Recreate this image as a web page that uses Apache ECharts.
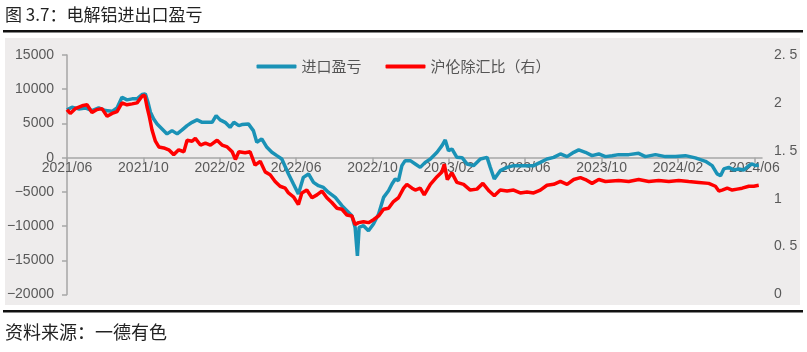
<!DOCTYPE html>
<html>
<head>
<meta charset="utf-8">
<script src="https://cdn.jsdelivr.net/npm/echarts@6/dist/echarts.min.js"></script>
<style>
html,body{margin:0;padding:0;background:#fff;}
#chart{width:807px;height:352px;}
</style>
</head>
<body>
<div id="chart"></div>
<script>
// x 以 2021/06 起算的月份数
var startYear = 2021, startMonth = 6;
var xTicks = [0, 4, 8, 12, 16, 20, 24, 28, 32, 36];

// 进口盈亏（元/吨，左轴）
var importMonths = [0, 0.26, 0.61, 0.96, 1.31, 1.66, 2.01, 2.36, 2.62, 2.88, 3.14, 3.41, 3.67, 3.93, 4.10, 4.24, 4.37, 4.54, 4.72, 4.98,
  5.24, 5.50, 5.77, 6.03, 6.29, 6.55, 6.81, 7.08, 7.34, 7.60, 7.81, 8.02, 8.28, 8.54, 8.74, 9.00, 9.16, 9.50, 9.76, 9.94,
  10.20, 10.47, 10.73, 10.99, 11.25, 11.60, 11.86, 12.12, 12.38, 12.65, 12.91, 13.17, 13.43, 13.70, 14.05, 14.40, 14.66, 14.92, 15.09, 15.21,
  15.30, 15.53, 15.79, 16.05, 16.32, 16.58, 16.84, 17.02, 17.19, 17.36, 17.54, 17.71, 17.98, 18.24, 18.50, 18.76, 19.03, 19.38, 19.64, 19.81,
  19.98, 20.16, 20.42, 20.69, 20.95, 21.29, 21.65, 22.00, 22.17, 22.38, 22.69, 23.05, 23.39, 23.74, 24.09, 24.44, 24.79, 25.14, 25.49, 25.84,
  26.19, 26.54, 26.80, 27.15, 27.50, 27.85, 28.20, 28.55, 28.89, 29.42, 29.94, 30.29, 30.82, 31.34, 31.87, 32.39, 32.91, 33.44, 33.79, 34.05,
  34.23, 34.40, 34.66, 34.92, 35.18, 35.45, 35.71, 35.89, 36.06, 36.23];
var importValues = [6980, 7360, 7120, 7270, 6880, 7270, 6880, 6770, 7270, 8820, 8440, 8590, 8590, 9220, 9320, 8090, 6630, 5660, 4930, 4200,
  3470, 3950, 3470, 4050, 4680, 5160, 5520, 5160, 5160, 5160, 6140, 5520, 5160, 4430, 5160, 4680, 4830, 4930, 3950, 2240,
  2740, 1510, 780, 290, -190, -2380, -3850, -5310, -2880, -2380, -3610, -4100, -4350, -5080, -5810, -7020, -7750, -8490, -10200, -14340,
  -10200, -9950, -10680, -9700, -8240, -5810, -4830, -3850, -3120, -3360, -1170, -440, -440, -920, -1420, -690, -190, 780, 1760, 2590,
  1020, 1270, 40, 0, -920, -1170, -190, 40, -1420, -3120, -1900, -1420, -1170, -1170, -1170, -1170, -690, -190, 40, 540,
  150, 780, 1130, 780, 290, 540, 150, 290, 440, 440, 630, 150, 440, 150, 150, 290, -40, -540, -1170, -2380,
  -2630, -1650, -1420, -1800, -1650, -1800, -1170, -920, -1170, -1070];

// 沪伦除汇比（右轴）
var ratioMonths = [0, 0.17, 0.43, 0.79, 1.05, 1.31, 1.57, 1.83, 2.10, 2.36, 2.62, 2.88, 3.14, 3.41, 3.67, 3.93, 4.07, 4.19, 4.31, 4.45,
  4.63, 4.81, 5.07, 5.33, 5.59, 5.85, 6.12, 6.29, 6.55, 6.72, 6.99, 7.25, 7.51, 7.86, 8.12, 8.39, 8.65, 8.82, 9.00, 9.07,
  9.33, 9.59, 9.85, 10.12, 10.38, 10.64, 10.90, 11.16, 11.43, 11.60, 11.86, 12.12, 12.30, 12.56, 12.83, 13.09, 13.35, 13.61, 13.87, 14.14,
  14.40, 14.66, 14.92, 15.09, 15.27, 15.53, 15.79, 16.05, 16.32, 16.58, 16.84, 17.10, 17.36, 17.63, 17.80, 18.07, 18.24, 18.50, 18.71, 19.03,
  19.38, 19.64, 19.76, 19.92, 20.16, 20.42, 20.77, 21.12, 21.47, 21.78, 22.11, 22.38, 22.69, 23.05, 23.39, 23.74, 24.09, 24.44, 24.79, 25.14,
  25.49, 25.84, 26.19, 26.54, 26.89, 27.15, 27.50, 27.85, 28.20, 28.89, 29.42, 29.94, 30.47, 30.99, 31.52, 32.04, 32.56, 33.09, 33.61, 33.96,
  34.14, 34.31, 34.58, 34.84, 35.10, 35.36, 35.71, 35.97, 36.23];
var ratioValues = [1.93, 1.89, 1.94, 1.97, 1.98, 1.90, 1.93, 1.94, 1.86, 1.89, 1.91, 2.00, 1.98, 1.99, 2.00, 2.07, 2.08, 1.96, 1.86, 1.72,
  1.60, 1.54, 1.53, 1.51, 1.46, 1.51, 1.49, 1.61, 1.60, 1.63, 1.56, 1.58, 1.56, 1.61, 1.56, 1.54, 1.49, 1.41, 1.49, 1.51,
  1.48, 1.49, 1.35, 1.39, 1.28, 1.25, 1.18, 1.13, 1.11, 1.06, 1.02, 0.94, 1.06, 1.09, 1.01, 1.04, 1.08, 1.01, 0.96, 0.90,
  0.89, 0.83, 0.82, 0.73, 0.75, 0.76, 0.75, 0.78, 0.82, 0.89, 0.90, 0.97, 1.01, 1.11, 1.15, 1.11, 1.09, 1.11, 1.04, 1.15,
  1.23, 1.28, 1.36, 1.20, 1.27, 1.17, 1.15, 1.09, 1.10, 1.16, 1.08, 1.03, 1.09, 1.08, 1.09, 1.06, 1.07, 1.06, 1.09, 1.14,
  1.15, 1.18, 1.15, 1.20, 1.22, 1.20, 1.16, 1.20, 1.18, 1.19, 1.18, 1.20, 1.18, 1.19, 1.18, 1.19, 1.18, 1.17, 1.16, 1.13,
  1.08, 1.09, 1.11, 1.09, 1.10, 1.11, 1.13, 1.13, 1.14];

function pairs(xs, ys) {
  return xs.map(function (x, i) { return [x, ys[i]]; });
}
function monthLabel(m) {
  var t = startMonth - 1 + Math.round(m);
  var y = startYear + Math.floor(t / 12);
  var mm = t % 12 + 1;
  return y + '/' + (mm < 10 ? '0' + mm : mm);
}

var chart = echarts.init(document.getElementById('chart'));
var labelStyle = {color: '#595959', fontSize: 14, fontFamily: 'Liberation Sans, Arial, sans-serif'};

// 网格：上 55，下 57.5，0 值线位置
var gridTop = 55, gridBottom = 57.5;
var plotH = 352 - gridTop - gridBottom;
var zeroOffset = plotH * 20000 / 35000;

var option = {
  backgroundColor: '#fff',
  animation: false,
  graphic: [
    {type: 'text', left: 5, top: 6, style: {text: '图 3.7：电解铝进出口盈亏', fontSize: 17, fill: '#222', fontFamily: 'Noto Sans CJK SC'}},
    {type: 'rect', shape: {x: 3, y: 30, width: 800, height: 2.5}, style: {fill: '#111'}},
    {type: 'rect', z: -10, shape: {x: 5, y: 38, width: 795, height: 267}, style: {fill: '#EEECEC'}},
    {type: 'rect', shape: {x: 3, y: 310, width: 800, height: 2.5}, style: {fill: '#111'}},
    {type: 'text', left: 5, top: 323, style: {text: '资料来源：一德有色', fontSize: 18, fill: '#222', fontFamily: 'Noto Sans CJK SC'}}
  ],
  legend: {
    top: 54,
    left: 'center',
    itemWidth: 40,
    itemHeight: 4,
    itemGap: 24,
    icon: 'roundRect',
    textStyle: {color: '#555', fontSize: 15, fontFamily: 'Noto Sans CJK SC'},
    data: ['进口盈亏', '沪伦除汇比（右）']
  },
  grid: {left: 67, right: 45, top: gridTop, bottom: gridBottom},
  xAxis: {
    type: 'value',
    min: 0,
    max: 36.4,
    offset: -zeroOffset,
    splitLine: {show: false},
    axisLine: {onZero: false, lineStyle: {color: '#A6A6A6', width: 1.5}},
    axisTick: {show: true, length: 5, lineStyle: {color: '#A6A6A6', width: 1.5}, customValues: xTicks},
    axisLabel: Object.assign({customValues: xTicks, formatter: monthLabel, margin: 3}, labelStyle)
  },
  yAxis: [
    {
      type: 'value',
      min: -20000,
      max: 15000,
      interval: 5000,
      splitLine: {show: false},
      axisLine: {show: true, lineStyle: {color: '#A6A6A6', width: 1.5}},
      axisTick: {show: true, length: 5, lineStyle: {color: '#A6A6A6', width: 1.5}},
      axisLabel: Object.assign({margin: 13, formatter: function (v) { return v < 0 ? '\u2212' + (-v) : '' + v; }}, labelStyle)
    },
    {
      type: 'value',
      min: 0,
      max: 2.5,
      interval: 0.5,
      splitLine: {show: false},
      axisLine: {show: false},
      axisTick: {show: false},
      axisLabel: Object.assign({margin: 12, formatter: function (v) { return String(v).replace('.', '. '); }}, labelStyle)
    }
  ],
  series: [
    {
      name: '进口盈亏',
      type: 'line',
      yAxisIndex: 0,
      showSymbol: false,
      itemStyle: {color: '#1A92B6'},
      lineStyle: {color: '#1A92B6', width: 3.5},
      data: pairs(importMonths, importValues)
    },
    {
      name: '沪伦除汇比（右）',
      type: 'line',
      yAxisIndex: 1,
      showSymbol: false,
      itemStyle: {color: '#FF0000'},
      lineStyle: {color: '#FF0000', width: 3.5},
      data: pairs(ratioMonths, ratioValues)
    }
  ]
};
chart.setOption(option);
</script>
</body>
</html>
